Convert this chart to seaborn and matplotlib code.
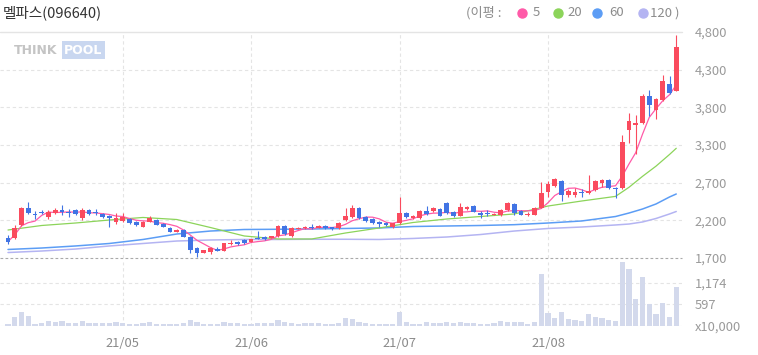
"""Daily candle chart of 멜파스(096640), Apr-Aug 2021, with moving averages and volume."""

import matplotlib

matplotlib.use("Agg")

import matplotlib.pyplot as plt  # noqa: E402
import numpy as np  # noqa: E402
import pandas as pd  # noqa: E402
import seaborn as sns  # noqa: E402
from matplotlib.lines import Line2D  # noqa: E402

TITLE = "멜파스(096640)"
MONTH_LABELS = ["21/05", "21/06", "21/07", "21/08"]
MONTH_START_IDX = [17, 36, 58, 80]  # trading-day index of the first day in each month

PRICE_LABELS = ["1,700", "2,200", "2,700", "3,300", "3,800", "4,300", "4,800"]
PRICE_MIN, PRICE_MAX = 1700, 4800
VOLUME_MAX = 1761
VOLUME_TICKS = [0, 597, 1174]
VOLUME_LABELS = ["x10,000", "597", "1,174"]

# daily OHLC, 2021-04-08 .. 2021-08-30
open_ = [1970, 1970, 2150, 2380, 2300, 2330, 2265, 2315, 2360, 2335,
         2360, 2245, 2360, 2335, 2310, 2270, 2200, 2210, 2235, 2200,
         2130, 2200, 2220, 2165, 2110, 2060, 2085, 1990, 1840, 1770,
         1785, 1825, 1800, 1890, 1920, 1945, 1920, 1980, 1990, 1975,
         1995, 2140, 1995, 2100, 2110, 2125, 2115, 2145, 2120, 2110,
         2220, 2265, 2385, 2265, 2235, 2200, 2180, 2125, 2180, 2320,
         2250, 2250, 2350, 2345, 2370, 2460, 2335, 2275, 2370, 2415,
         2320, 2320, 2295, 2290, 2360, 2440, 2350, 2295, 2290, 2385,
         2605, 2690, 2755, 2565, 2570, 2600, 2590, 2635, 2730, 2770,
         2655, 2660, 3460, 3520, 3550, 3920, 3735, 3870, 4085, 3995]
high = [2010, 2150, 2400, 2465, 2345, 2360, 2360, 2385, 2430, 2370,
        2370, 2390, 2370, 2370, 2320, 2290, 2315, 2315, 2245, 2210,
        2210, 2270, 2230, 2175, 2120, 2100, 2095, 1995, 1850, 1815,
        1850, 1850, 1910, 1945, 1935, 1960, 1965, 2070, 2000, 2005,
        2150, 2150, 2125, 2125, 2140, 2170, 2150, 2150, 2130, 2190,
        2385, 2425, 2395, 2280, 2245, 2210, 2200, 2185, 2535, 2330,
        2285, 2360, 2420, 2395, 2380, 2470, 2345, 2450, 2410, 2425,
        2345, 2355, 2320, 2370, 2470, 2450, 2360, 2325, 2395, 2740,
        2760, 2800, 2770, 2650, 2660, 2650, 2840, 2770, 2790, 2790,
        2680, 3390, 3690, 3665, 3955, 4010, 3900, 4215, 4200, 4760]
low = [1890, 1965, 2140, 2310, 2240, 2300, 2240, 2305, 2285, 2265,
       2290, 2220, 2295, 2285, 2255, 2130, 2165, 2195, 2165, 2140,
       2120, 2190, 2150, 2120, 2050, 2050, 1985, 1770, 1720, 1765,
       1750, 1790, 1795, 1875, 1880, 1890, 1915, 1955, 1950, 1970,
       1990, 2015, 1990, 2095, 2100, 2100, 2110, 2100, 2090, 2100,
       2210, 2255, 2240, 2200, 2170, 2130, 2140, 2110, 2170, 2250,
       2240, 2240, 2295, 2330, 2270, 2310, 2265, 2270, 2360, 2330,
       2250, 2270, 2285, 2280, 2350, 2290, 2285, 2280, 2285, 2380,
       2530, 2680, 2480, 2530, 2540, 2530, 2580, 2625, 2680, 2650,
       2525, 2650, 3280, 3120, 3540, 3650, 3600, 3860, 3950, 3990]
close = [1925, 2110, 2390, 2315, 2290, 2320, 2335, 2360, 2330, 2315,
         2300, 2360, 2300, 2315, 2265, 2245, 2255, 2265, 2175, 2150,
         2200, 2245, 2155, 2130, 2060, 2085, 1990, 1810, 1770, 1810,
         1835, 1800, 1905, 1910, 1890, 1900, 1960, 1965, 1960, 1995,
         2140, 2025, 2110, 2115, 2130, 2110, 2140, 2110, 2100, 2185,
         2275, 2385, 2250, 2210, 2180, 2160, 2155, 2180, 2320, 2265,
         2270, 2350, 2305, 2385, 2275, 2315, 2275, 2400, 2400, 2335,
         2290, 2305, 2310, 2360, 2455, 2320, 2295, 2305, 2385, 2590,
         2715, 2790, 2565, 2620, 2610, 2590, 2625, 2755, 2770, 2660,
         2645, 3290, 3585, 3550, 3920, 3800, 3885, 4130, 3965, 4590]
# volume, x10,000 shares
volume = [55, 255, 373, 282, 55, 73, 137, 118, 137, 73,
          73, 137, 73, 73, 73, 82, 100, 73, 64, 64,
          73, 100, 64, 55, 55, 55, 91, 164, 109, 55,
          46, 46, 100, 73, 73, 55, 55, 73, 73, 73,
          164, 118, 73, 46, 91, 91, 73, 46, 46, 91,
          227, 191, 100, 73, 55, 55, 55, 55, 382, 118,
          55, 55, 118, 73, 73, 118, 91, 118, 73, 91,
          55, 46, 73, 146, 118, 100, 100, 46, 100, 1420,
          346, 227, 373, 191, 164, 137, 319, 255, 227, 164,
          137, 1761, 1556, 728, 1347, 592, 319, 619, 255, 1056]

# longer moving averages at these trading-day indices
ma_idx = [0, 5, 10, 15, 20, 25, 30, 35, 40, 45, 50, 55, 60, 65, 70, 75,
          80, 85, 90, 92, 94, 96, 98, 99]
ma20 = [2084, 2146, 2180, 2221, 2256, 2228, 2118, 2002, 1961, 1961, 2043, 2112,
        2187, 2235, 2269, 2304, 2413, 2482, 2545, 2670, 2820, 2960, 3120, 3205]
ma60 = [1817, 1837, 1865, 1899, 1954, 2029, 2070, 2091, 2094, 2098, 2105, 2112,
        2132, 2139, 2146, 2157, 2180, 2208, 2269, 2317, 2372, 2441, 2537, 2578]
ma120 = [1775, 1796, 1823, 1865, 1899, 1933, 1947, 1954, 1954, 1957, 1957, 1954,
         1968, 1988, 2022, 2070, 2105, 2125, 2153, 2166, 2194, 2242, 2304, 2338]

UP, DOWN = "#fa4b5e", "#4174e4"
MA_COLORS = {"5": "#ff5aa8", "20": "#8cd45a", "60": "#5c9df5", "120": "#b4b4f2"}
GRID = "#e4e4e4"
TICK_COLOR = "#9a9a9a"

W, H = 758, 355


def px_rect(x0, y0, x1, y1):
    return [x0 / W, 1 - y1 / H, (x1 - x0) / W, (y1 - y0) / H]


sns.set_theme(style="white")
plt.rcParams["font.family"] = ["Noto Sans CJK KR", "DejaVu Sans"]

df = pd.DataFrame({"open": open_, "high": high, "low": low, "close": close, "volume": volume})
df["idx"] = np.arange(len(df))
df["ma5"] = df["close"].rolling(5, min_periods=1).mean()
rising = df["close"] >= df["open"]
colors = np.where(rising, UP, DOWN)

fig = plt.figure(figsize=(W / 100, H / 100), dpi=100)
ax = fig.add_axes(px_rect(0, 32, 682, 258))
vax = fig.add_axes(px_rect(0, 261.5, 682, 326))
xlim = (-1.185, 99.85)

# price panel
for t in np.linspace(PRICE_MIN, PRICE_MAX, 7)[1:-1]:
    ax.axhline(t, color=GRID, lw=0.8, dashes=(3, 2.5), zorder=0)
ax.axhline(PRICE_MAX, color=GRID, lw=1.0, clip_on=False, zorder=0)
ax.axhline(PRICE_MIN, color="#a9a9a9", lw=0.8, dashes=(2.5, 2), clip_on=False, zorder=0)
for m in MONTH_START_IDX:
    ax.axvline(m, color=GRID, lw=0.8, dashes=(3, 2.5), zorder=0)
    vax.axvline(m, color=GRID, lw=0.8, dashes=(3, 2.5), zorder=0)

sns.lineplot(x=ma_idx, y=ma120, color=MA_COLORS["120"], lw=1.1, ax=ax, zorder=2)
sns.lineplot(x=ma_idx, y=ma60, color=MA_COLORS["60"], lw=1.1, ax=ax, zorder=2)
sns.lineplot(x=ma_idx, y=ma20, color=MA_COLORS["20"], lw=0.9, ax=ax, zorder=2)
sns.lineplot(data=df, x="idx", y="ma5", color=MA_COLORS["5"], lw=0.9, ax=ax, zorder=2)

body_lo = df[["open", "close"]].min(axis=1)
body_h = (df["close"] - df["open"]).abs().clip(lower=14)
ax.vlines(df["idx"], df["low"], df["high"], colors=colors, lw=0.8, zorder=3)
ax.bar(df["idx"], body_h, bottom=body_lo, width=0.7, color=colors, lw=0, zorder=4)

ax.set_xlim(*xlim)
ax.set_ylim(PRICE_MIN, PRICE_MAX)
ax.set_xticks([])
ax.yaxis.tick_right()
ax.set_yticks(np.linspace(PRICE_MIN, PRICE_MAX, 7), PRICE_LABELS)
ax.tick_params(axis="y", length=0, pad=9, labelsize=9.3, labelcolor=TICK_COLOR)
ax.set_xlabel("")
ax.set_ylabel("")
for s in ax.spines.values():
    s.set_visible(False)

# volume panel
for t in VOLUME_TICKS[1:]:
    vax.axhline(t, color=GRID, lw=0.8, dashes=(3, 2.5), zorder=0)
vax.axhline(0, color=GRID, lw=0.8, zorder=0)
sns.barplot(data=df, x="idx", y="volume", native_scale=True, color="#d3d9ec",
            saturation=1, width=0.75, edgecolor="none", linewidth=0, ax=vax, zorder=2)
vax.set_xlim(*xlim)
vax.set_ylim(0, VOLUME_MAX)
vax.yaxis.tick_right()
vax.set_yticks(VOLUME_TICKS, VOLUME_LABELS)
vax.set_xticks(MONTH_START_IDX, MONTH_LABELS)
vax.tick_params(axis="y", length=0, pad=9, labelsize=9.3, labelcolor=TICK_COLOR)
vax.tick_params(axis="x", length=0, pad=8, labelsize=9.3, labelcolor="#8a8a8a")
vax.set_xlabel("")
vax.set_ylabel("")
for s in vax.spines.values():
    s.set_visible(False)

# header
ty = 1 - 13 / H
fig.text(3 / W, ty, TITLE, fontsize=10.5, color="#333333", va="center", ha="left")
fig.text(466 / W, ty, "(이평 :", fontsize=9.5, color="#8c8c8c", va="center", ha="left")
legend_pos = [(521.5, 533), (558, 567), (597, 609), (642.5, 650)]
for (dot_x, txt_x), (name, col) in zip(legend_pos, MA_COLORS.items()):
    fig.add_artist(Line2D([dot_x / W], [ty], marker="o", markersize=6.5, color=col,
                          lw=0, transform=fig.transFigure))
    label = name + " )" if name == "120" else name
    fig.text(txt_x / W, ty, label, fontsize=9.5, color="#8c8c8c", va="center", ha="left")

# watermark
fig.text(14 / W, 1 - 50 / H, "THINK", fontsize=9, fontweight="heavy", color="#c4c4c4",
         family="DejaVu Sans", va="center", ha="left")
fig.text(64 / W, 1 - 50 / H, "POOL", fontsize=9, fontweight="heavy", color="white",
         family="DejaVu Sans", va="center", ha="left",
         bbox=dict(boxstyle="square,pad=0.2", fc="#c9d7f0", ec="none"))

fig.savefig("out.png", dpi=100, facecolor="white")
